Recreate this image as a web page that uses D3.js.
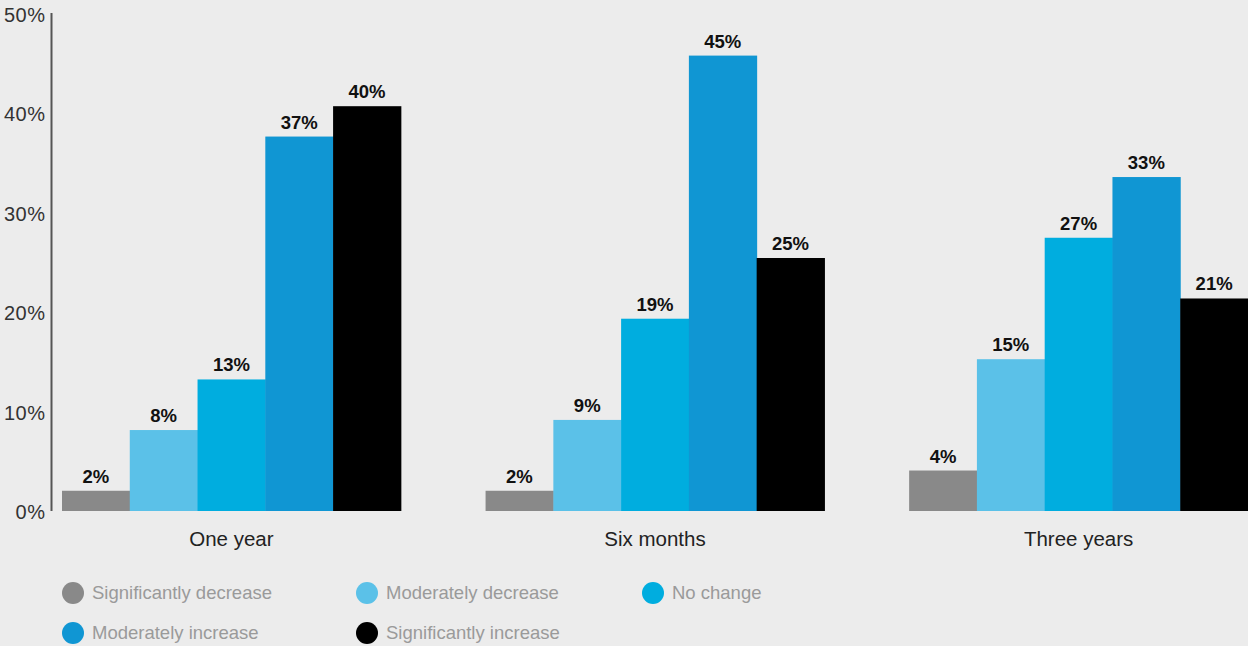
<!DOCTYPE html>
<html>
<head>
<meta charset="utf-8">
<script src="https://cdn.jsdelivr.net/npm/d3@7"></script>
<style>
  html, body { margin: 0; padding: 0; background: #ececec; }
  svg { display: block; }
  text { font-family: "Liberation Sans", "Helvetica Neue", Arial, sans-serif; }
</style>
</head>
<body>
<svg id="chart" width="1248" height="646"></svg>
<script>
// Survey horizons (groups along the x axis)
const categories = ["One year", "Six months", "Three years"];

// Response options (one bar per option within each group)
const seriesNames = [
  "Significantly decrease",
  "Moderately decrease",
  "No change",
  "Moderately increase",
  "Significantly increase"
];

// Share of respondents (%) per option, in category order
const significantlyDecrease = [2, 2, 4];
const moderatelyDecrease   = [8, 9, 15];
const noChange             = [13, 19, 27];
const moderatelyIncrease   = [37, 45, 33];
const significantlyIncrease = [40, 25, 21];

const yTicks = [0, 10, 20, 30, 40, 50];

const seriesValues = [
  significantlyDecrease,
  moderatelyDecrease,
  noChange,
  moderatelyIncrease,
  significantlyIncrease
];

const colors = ["#898989", "#5bc1e8", "#00addf", "#1096d3", "#000000"];

const rows = categories.map((c, i) => {
  const r = { category: c };
  seriesNames.forEach((s, j) => { r[s] = seriesValues[j][i]; });
  return r;
});

const svg = d3.select("#chart");

const x0 = d3.scaleBand()
  .domain(categories)
  .range([62, 1248])
  .paddingInner(0.2)
  .paddingOuter(0);

const x1 = d3.scaleBand()
  .domain(seriesNames)
  .range([0, x0.bandwidth()])
  .padding(0);

const y = d3.scaleLinear()
  .domain([0, 50])
  .range([511, 5]);

const color = d3.scaleOrdinal().domain(seriesNames).range(colors);

// Y axis: vertical rule plus percentage labels
const yAxis = d3.axisLeft(y)
  .tickValues(yTicks)
  .tickSize(0)
  .tickPadding(6)
  .tickFormat(d => d + "%");

const yg = svg.append("g")
  .attr("transform", "translate(51.5,0)")
  .call(yAxis);

yg.select(".domain")
  .attr("d", `M0,${y(0)}V${y(50) + 8}`)
  .attr("stroke", "#555")
  .attr("stroke-width", 2);

// labels sit slightly lower toward the top of the axis
yg.selectAll(".tick text")
  .attr("dy", "0.32em")
  .attr("transform", d => `translate(0,${1 + d * 0.18})`)
  .attr("fill", "#333")
  .attr("font-size", 20)
  .attr("font-weight", 300)
  .attr("letter-spacing", "0.5px");

// Bars and value labels
const groups = svg.append("g")
  .selectAll("g")
  .data(rows)
  .join("g")
  .attr("transform", d => `translate(${x0(d.category)},0)`);

groups.selectAll("rect")
  .data(d => seriesNames.map(s => ({ key: s, value: d[s] })))
  .join("rect")
  .attr("x", d => x1(d.key))
  .attr("y", d => y(d.value))
  .attr("width", x1.bandwidth() + 0.5)
  .attr("height", d => y(0) - y(d.value))
  .attr("fill", d => color(d.key));

groups.selectAll("text.value")
  .data(d => seriesNames.map(s => ({ key: s, value: d[s] })))
  .join("text")
  .attr("class", "value")
  .attr("x", d => x1(d.key) + x1.bandwidth() / 2)
  .attr("y", d => y(d.value) - 8)
  .attr("text-anchor", "middle")
  .attr("font-size", 18.5)
  .attr("font-weight", "bold")
  .attr("fill", "#111")
  .text(d => d.value + "%");

// Category labels under each group
const xAxis = d3.axisBottom(x0).tickSize(0).tickPadding(20);
const xg = svg.append("g")
  .attr("transform", `translate(0,${y(0)})`)
  .call(xAxis);
xg.select(".domain").remove();
xg.selectAll(".tick text")
  .attr("font-size", 20.5)
  .attr("fill", "#222")
  .attr("font-weight", 300);

// Legend: two rows of coloured dots with labels
const legendCols = [73, 367, 653];
const legendRows = [593, 633];
const legend = svg.append("g")
  .selectAll("g")
  .data(seriesNames)
  .join("g")
  .attr("transform", (d, i) => `translate(${legendCols[i % 3]},${legendRows[Math.floor(i / 3)]})`);

legend.append("circle")
  .attr("r", 11)
  .attr("fill", d => color(d));

legend.append("text")
  .attr("x", 19)
  .attr("dy", "0.35em")
  .attr("font-size", 18.5)
  .attr("fill", "#9a9a9a")
  .text(d => d);
</script>
</body>
</html>
